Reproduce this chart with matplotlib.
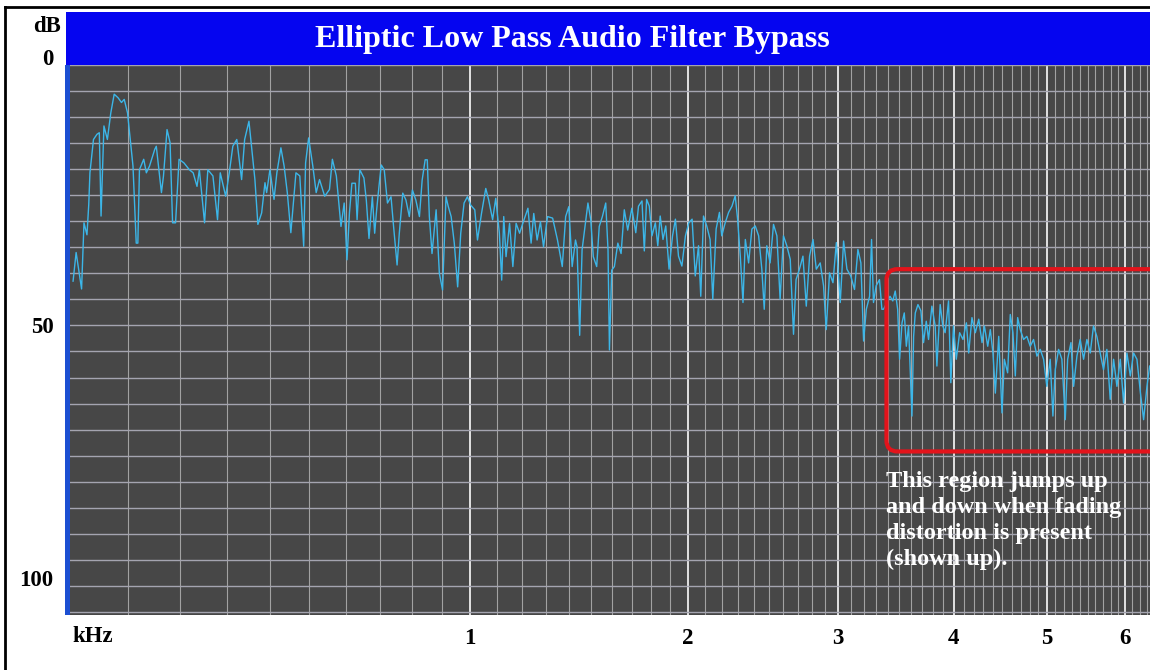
import numpy as np
import matplotlib
matplotlib.use("Agg")
import matplotlib.pyplot as plt
from matplotlib.patches import Rectangle, FancyBboxPatch
from matplotlib.lines import Line2D
from matplotlib.transforms import IdentityTransform

plt.rcParams['font.family'] = ['Liberation Serif', 'DejaVu Serif']

# spectrum trace: frequency (kHz) and level (dB below top)
freq_khz = [
    0.005, 0.010, 0.019, 0.023, 0.028, 0.031, 0.033, 0.039, 0.045, 0.049,
    0.052, 0.057, 0.063, 0.069, 0.075, 0.082, 0.088, 0.093, 0.099, 0.104,
    0.109, 0.115, 0.118, 0.121, 0.129, 0.134, 0.140, 0.150, 0.153, 0.163,
    0.167, 0.174, 0.180, 0.185, 0.191, 0.198, 0.208, 0.219, 0.227, 0.235,
    0.240, 0.251, 0.258, 0.269, 0.279, 0.285, 0.297, 0.305, 0.313, 0.322,
    0.333, 0.340, 0.350, 0.356, 0.364, 0.371, 0.380, 0.388, 0.392, 0.400,
    0.410, 0.417, 0.427, 0.435, 0.443, 0.452, 0.465, 0.475, 0.485, 0.490,
    0.498, 0.509, 0.518, 0.527, 0.541, 0.554, 0.562, 0.573, 0.586, 0.595,
    0.603, 0.610,
    0.617, 0.627, 0.632, 0.640, 0.652, 0.659, 0.667, 0.677, 0.684, 0.690,
    0.697, 0.704, 0.713, 0.723, 0.734, 0.742, 0.753, 0.760, 0.771, 0.781,
    0.792, 0.802, 0.813, 0.825, 0.834, 0.844, 0.851, 0.858, 0.867, 0.881,
    0.892, 0.903, 0.915, 0.923, 0.933, 0.944, 0.956, 0.967, 0.979, 0.991,
    1.003, 1.018, 1.028, 1.043, 1.059, 1.070, 1.085, 1.097, 1.111, 1.120,
    1.128, 1.137, 1.151, 1.164, 1.177, 1.191, 1.204, 1.225, 1.238, 1.249,
    1.263, 1.277, 1.290, 1.307, 1.329, 1.350, 1.371, 1.386, 1.400, 1.415,
    1.430, 1.437, 1.449, 1.460, 1.475, 1.487, 1.500, 1.512, 1.528, 1.540,
    1.555, 1.571, 1.582, 1.589, 1.600, 1.613, 1.630, 1.646, 1.662, 1.679,
    1.700,
    1.720, 1.734, 1.752, 1.764, 1.776, 1.790, 1.804, 1.822, 1.835, 1.848,
    1.863, 1.878, 1.896, 1.915, 1.931, 1.948, 1.967, 1.987, 2.006, 2.025,
    2.043, 2.062, 2.075, 2.091, 2.110, 2.130, 2.146, 2.166, 2.186, 2.200,
    2.221, 2.242, 2.263, 2.283, 2.298, 2.315, 2.332, 2.347, 2.368, 2.389,
    2.411, 2.433, 2.454, 2.470, 2.487, 2.509, 2.532, 2.555, 2.577, 2.600,
    2.623, 2.647, 2.670, 2.688, 2.712, 2.737, 2.761, 2.785, 2.810, 2.834,
    2.863, 2.888, 2.908, 2.933, 2.959, 2.985, 3.015, 3.041, 3.067, 3.097,
    3.127, 3.154, 3.178, 3.200, 3.222, 3.249, 3.265, 3.281, 3.303, 3.331,
    3.351,
    3.365, 3.420, 3.444, 3.465, 3.486, 3.503, 3.524, 3.544, 3.562, 3.582,
    3.612, 3.627, 3.642, 3.666, 3.693, 3.717, 3.742, 3.763, 3.794, 3.825,
    3.841, 3.872, 3.897, 3.919, 3.952, 3.974, 4.000, 4.027, 4.060, 4.093,
    4.127, 4.150, 4.183, 4.217, 4.252, 4.286, 4.310, 4.345, 4.372, 4.400,
    4.425, 4.461, 4.496, 4.521, 4.557, 4.586, 4.615, 4.641, 4.667, 4.696,
    4.733, 4.770, 4.808, 4.846, 4.885, 4.923, 4.962, 5.000, 5.040, 5.072,
    5.100, 5.140, 5.180, 5.221, 5.250, 5.291, 5.324, 5.365, 5.406, 5.449,
    5.491, 5.534, 5.576, 5.619, 5.663, 5.707, 5.751, 5.796, 5.841, 5.886,
    5.932, 5.977, 6.023, 6.070, 6.116, 6.163, 6.213, 6.258, 6.306, 6.345,
]
level_db = [
    41.5, 36.0, 43.0, 30.3, 32.6, 26.8, 20.7, 14.3, 13.3, 13.0,
    29.0, 11.7, 14.3, 9.2, 5.6, 6.3, 7.2, 6.6, 9.2, 14.3,
    19.4, 34.2, 34.2, 20.1, 18.1, 20.7, 19.4, 16.2, 15.6, 24.5,
    21.3, 12.4, 14.9, 30.3, 30.3, 18.1, 18.8, 20.1, 20.7, 23.3,
    20.1, 30.3, 20.1, 21.3, 29.7, 20.7, 25.2, 20.7, 15.6, 14.3,
    22.0, 14.3, 10.8, 15.6, 22.0, 30.6, 28.4, 22.6, 24.5, 20.1,
    25.8, 20.7, 15.9, 19.4, 24.5, 32.2, 20.7, 21.3, 34.8, 18.8,
    14.0, 19.4, 24.5, 22.0, 25.2, 23.9, 18.1, 21.3, 31.0, 26.5,
    37.4, 28.4,
    22.7, 22.7, 29.7, 20.1, 21.7, 25.9, 33.3, 25.3, 32.3, 27.8,
    23.3, 19.2, 20.1, 26.5, 25.3, 31.0, 38.4, 32.3, 24.6, 25.9,
    29.1, 24.0, 25.9, 29.1, 22.1, 18.2, 18.2, 29.1, 36.2, 27.8,
    40.0, 43.2, 25.3, 27.2, 29.1, 34.2, 42.6, 32.3, 26.5, 25.3,
    26.9, 27.8, 33.6, 28.5, 23.7, 25.9, 29.7, 25.6, 32.3, 41.3,
    29.1, 36.8, 30.4, 38.7, 30.4, 32.3, 30.4, 27.5, 34.2, 28.5,
    33.6, 30.1, 34.9, 29.1, 29.4, 33.6, 38.7, 29.1, 27.2, 38.7,
    33.6, 34.9, 51.9, 35.5, 30.4, 26.5, 29.7, 36.8, 38.7, 31.0,
    29.1, 26.5, 35.5, 54.7, 39.4, 38.7, 34.2, 36.2, 27.8, 31.7,
    27.5,
    32.2, 27.1, 26.1, 35.7, 25.8, 27.1, 32.8, 30.3, 34.7, 29.0,
    33.5, 30.9, 39.2, 32.8, 29.6, 36.7, 38.6, 32.8, 30.3, 29.6,
    40.5, 34.7, 44.4, 29.0, 30.9, 33.5, 45.0, 31.5, 28.3, 32.8,
    30.3, 28.3, 27.1, 25.1, 29.6, 36.7, 45.6, 33.5, 38.0, 31.5,
    30.9, 32.8, 39.2, 46.9, 34.7, 38.0, 30.6, 32.8, 45.0, 32.8,
    34.7, 37.3, 51.7, 41.2, 39.2, 36.7, 46.3, 36.7, 33.5, 39.2,
    38.0, 42.4, 50.8, 39.9, 41.8, 34.1, 45.6, 33.8, 39.2, 40.5,
    43.1, 35.4, 38.0, 53.0, 46.9, 44.4, 33.5, 45.6, 42.4, 41.2,
    46.9,
    46.9, 44.4, 45.3, 43.4, 46.9, 56.5, 49.5, 47.6, 54.0, 50.1,
    67.4, 52.1, 47.6, 46.0, 47.2, 53.3, 49.2, 52.7, 46.3, 50.1,
    57.8, 46.0, 50.1, 51.4, 45.3, 61.0, 50.1, 56.5, 51.4, 52.7,
    49.5, 55.3, 48.5, 51.4, 48.8, 53.3, 50.1, 54.0, 50.8, 55.3,
    63.0, 52.1, 66.8, 56.5, 59.1, 47.9, 51.4, 59.7, 48.5, 50.8,
    52.7, 52.1, 54.0, 52.7, 55.9, 54.6, 56.5, 61.7, 56.5, 67.4,
    58.5, 54.6, 56.5, 68.1, 56.5, 53.3, 61.7, 55.9, 52.7, 56.5,
    52.7, 55.3, 50.1, 52.1, 55.3, 58.5, 54.6, 64.2, 56.5, 61.7,
    56.5, 64.9, 55.3, 59.7, 55.3, 56.5, 63.0, 68.1, 61.7, 57.8,
]

khz_ticks = [1, 2, 3, 4, 5, 6]
db_ticks = [0, 50, 100]
title = "Elliptic Low Pass Audio Filter Bypass"
note = "This region jumps up\nand down when fading\ndistortion is present\n(shown up)."

# frequency axis of the analyser is a mel-like warp: log(1 + f/0.8 kHz)
def fwd(f):
    return np.log1p(np.maximum(f, 0) / 0.8)

def inv(u):
    return 0.8 * np.expm1(u)

W, H = 1150, 670
fig = plt.figure(figsize=(W / 100, H / 100), dpi=100, facecolor='white')

# outer black frame (top and left visible)
fig.add_artist(Line2D([5 / W, 1], [1 - 7 / H, 1 - 7 / H], color='black', lw=2))
fig.add_artist(Line2D([5 / W, 5 / W], [0, 1 - 7 / H], color='black', lw=2))

# blue title bar
fig.add_artist(Rectangle((66 / W, 1 - 65 / H), 1 - 66 / W, 53 / H,
                         transform=fig.transFigure, facecolor='#0505f0',
                         edgecolor='none'))
fig.text(572 / W, 1 - 39 / H, title, color='white',
         fontsize=23, fontweight='bold', ha='center', va='center')

ax = fig.add_axes([70 / W, 1 - 615 / H, 1080 / W, 550 / H])
ax.set_facecolor('#474747')
ax.set_xscale('function', functions=(fwd, inv))
ax.set_xlim(0, 6.35)
ax.set_ylim(105.6, 0)
ax.set_autoscale_on(False)

ax.set_xticks(khz_ticks)
ax.set_xticklabels([str(k) for k in khz_ticks])
ax.set_xticks(np.arange(1, 64) / 10, minor=True)
ax.set_yticks(db_ticks)
ax.set_yticklabels([str(d) for d in db_ticks])
ax.set_yticks(np.arange(5, 106, 5), minor=True)

ax.grid(which='minor', axis='x', color='#a2a2a2', lw=0.8)
ax.grid(which='major', axis='x', color='#eeeeee', lw=1.3)
ax.grid(which='both', axis='y', color='#a4a4b0', lw=1.0)
ax.set_axisbelow(True)

ax.tick_params(which='both', length=0)
ax.tick_params(axis='x', pad=9, labelsize=16.5)
ax.tick_params(axis='y', pad=12, labelsize=16.5)
for lab in ax.get_xticklabels() + ax.get_yticklabels():
    lab.set_fontweight('bold')
ax.get_yticklabels()[0].set_va('baseline')
ax.get_yticklabels()[2].set_va('baseline')
for s in ax.spines.values():
    s.set_visible(False)

# blue left edge of the display
fig.add_artist(Rectangle((65 / W, 1 - 615 / H), 5 / W, 550 / H,
                         transform=fig.transFigure, facecolor='#1c4fd2',
                         edgecolor='none'))

fig.text(47 / W, 1 - 26 / H, 'dB', fontsize=16.5, fontweight='bold',
         ha='center', va='center')
fig.text(93 / W, 1 - 636 / H, 'kHz', fontsize=16.5, fontweight='bold',
         ha='center', va='center')

ax.plot(freq_khz, level_db, color='#3cb6e8', lw=1.0, zorder=3)

# red rounded highlight box, drawn in pixels so the corners stay round
(x0, y0), (x1, y1) = ax.transData.transform([(3.39, 74.2), (6.8, 39.2)])
box = FancyBboxPatch((x0, y0), x1 - x0, y1 - y0,
                     boxstyle='round,pad=0,rounding_size=11',
                     transform=IdentityTransform(), facecolor='none',
                     edgecolor='#e3131b', lw=3, zorder=4)
ax.add_artist(box)

ax.text(3.39, 78.0, note, color='white', fontsize=17.5, fontweight='bold',
        ha='left', va='top', linespacing=1.3, zorder=5)

fig.savefig('out.png', dpi=100, facecolor='white')
